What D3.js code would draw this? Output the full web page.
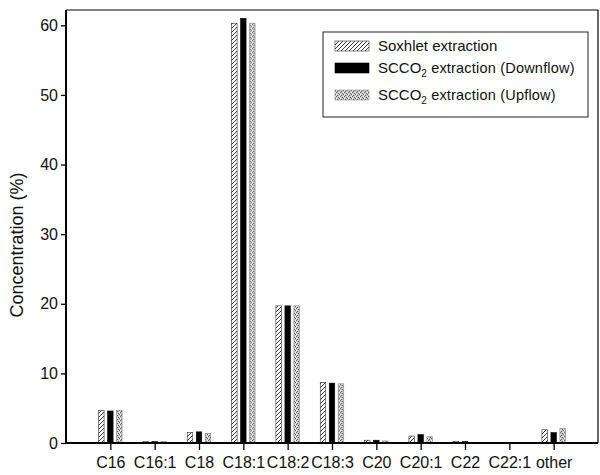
<!DOCTYPE html>
<html><head><meta charset="utf-8">
<script src="https://cdn.jsdelivr.net/npm/d3@7"></script>
<style>body{margin:0;background:#fff}svg{display:block}text{font-family:"Liberation Sans",Arial,sans-serif}</style>
</head><body>
<svg id="c" width="600" height="475"></svg>
<script>
const categories = ["C16","C16:1","C18","C18:1","C18:2","C18:3","C20","C20:1","C22","C22:1","other"];
const soxhlet  = [4.7, 0.2, 1.5, 60.3, 19.7, 8.7, 0.4, 1.0, 0.2, 0.05, 1.9];
const downflow = [4.6, 0.2, 1.6, 61.0, 19.7, 8.6, 0.4, 1.2, 0.2, 0.05, 1.5];
const upflow   = [4.7, 0.2, 1.4, 60.3, 19.7, 8.5, 0.3, 0.9, 0.1, 0.05, 2.1];
const yTicks = [0,10,20,30,40,50,60];
const seriesNames = ["Soxhlet extraction","SCCO2 extraction (Downflow)","SCCO2 extraction (Upflow)"];

const svg = d3.select("#c");
const L=66, R=598, T=10, B=443;
const y = d3.scaleLinear().domain([0,62.2]).range([B,T]);
const x = d3.scaleLinear().domain([0,categories.length+1]).range([L,R]);

const defs = svg.append("defs");
const hp = defs.append("pattern").attr("id","hatch").attr("patternUnits","userSpaceOnUse").attr("width",4).attr("height",4);
hp.append("rect").attr("width",4).attr("height",4).attr("fill","#fff");
hp.append("path").attr("d","M-1,1 l2,-2 M0,4 l4,-4 M3,5 l2,-2").attr("stroke","#222").attr("stroke-width",0.9);
const gp = defs.append("pattern").attr("id","stip").attr("patternUnits","userSpaceOnUse").attr("width",4).attr("height",4);
gp.append("rect").attr("width",4).attr("height",4).attr("fill","#c8c8c8");
[[0,0],[2,1],[1,3],[3,2]].forEach(([a,b])=>gp.append("rect").attr("x",a).attr("y",b).attr("width",1).attr("height",1).attr("fill","#666"));
gp.append("rect").attr("x",3).attr("y",0).attr("width",1).attr("height",1).attr("fill","#fff");
gp.append("rect").attr("x",0).attr("y",2).attr("width",1).attr("height",1).attr("fill","#fff");

const fills = ["url(#hatch)","#000","url(#stip)"];
const strokes = ["#333","#000","#888"];
const data = [soxhlet, downflow, upflow];
const bw = 5.5, step = 9;

data.forEach((vals,si)=>{
  svg.append("g").selectAll("rect").data(vals).join("rect")
    .attr("x",(d,i)=>x(i+1)+(si-1)*step-bw/2)
    .attr("y",d=>y(d))
    .attr("width",bw)
    .attr("height",d=>B-y(d))
    .attr("fill",fills[si])
    .attr("stroke",strokes[si]).attr("stroke-width",0.6);
});

// frame
svg.append("line").attr("x1",L).attr("x2",R).attr("y1",T).attr("y2",T).attr("stroke","#000").attr("stroke-width",1.2);
svg.append("line").attr("x1",R).attr("x2",R).attr("y1",T).attr("y2",B).attr("stroke","#000").attr("stroke-width",1.2);

const yAxis = svg.append("g").attr("transform",`translate(${L},0)`)
  .call(d3.axisLeft(y).tickValues(yTicks).tickSize(5).tickPadding(3).tickSizeOuter(0));
yAxis.select(".domain").attr("stroke-width",2).attr("d",`M0,${T}V${B}`);
yAxis.selectAll(".tick line").attr("stroke-width",1.3);
yAxis.selectAll("text").attr("font-size",16).attr("fill","#111").attr("font-family","Liberation Sans, Arial, sans-serif");

const xAxis = svg.append("g").attr("transform",`translate(0,${B})`)
  .call(d3.axisBottom(x).tickValues(d3.range(1,categories.length+1)).tickFormat(i=>categories[i-1]).tickSize(7).tickPadding(7).tickSizeOuter(0));
xAxis.select(".domain").attr("stroke-width",2).attr("d",`M${L},0H${R}`);
xAxis.selectAll(".tick line").attr("stroke-width",1.3);
xAxis.selectAll("text").attr("font-size",16).attr("fill","#111").attr("font-family","Liberation Sans Narrow, Arial Narrow, Liberation Sans, sans-serif");

svg.append("text").attr("transform",`translate(23,245) rotate(-90)`)
  .attr("text-anchor","middle").attr("font-size",18).attr("fill","#111").text("Concentration (%)");

// legend
const lg = svg.append("g");
lg.append("rect").attr("x",323).attr("y",32).attr("width",265).attr("height",85).attr("fill","#fff").attr("stroke","#222").attr("stroke-width",1);
const baseY = [51,73,100];
seriesNames.forEach((n,i)=>{
  lg.append("rect").attr("x",335).attr("y",baseY[i]-10).attr("width",34).attr("height",10)
    .attr("fill",fills[i]).attr("stroke",strokes[i]).attr("stroke-width",0.6);
  const t = lg.append("text").attr("x",378).attr("y",baseY[i]).attr("font-size",15).attr("fill","#111");
  if(n.startsWith("SCCO2")){
    t.append("tspan").text("SCCO");
    t.append("tspan").attr("font-size",10).attr("dy",4).text("2");
    t.append("tspan").attr("dy",-4).attr("font-size",14.5).attr("letter-spacing",0.2).text(n.slice(5));
  } else {
    t.append("tspan").attr("font-size",15).text(n);
  }
});
</script>
</body></html>
